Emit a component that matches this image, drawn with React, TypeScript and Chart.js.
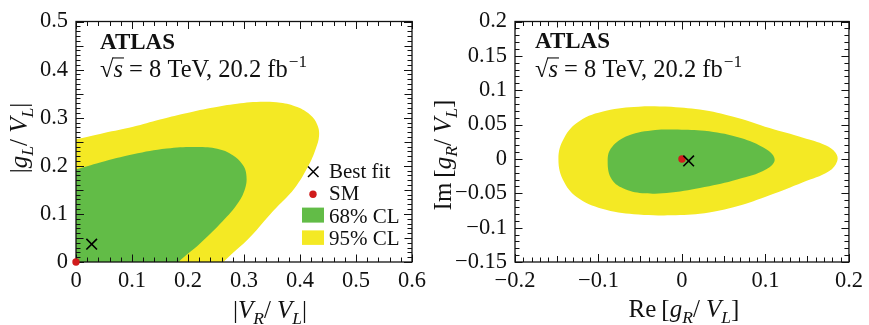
import React, { useEffect, useRef } from 'react';
import { Chart, registerables } from 'chart.js';
Chart.register(...registerables);

const FONT = "'Liberation Serif', 'Times New Roman', 'DejaVu Serif', serif";
const GREEN = '#62bc47';
const YELLOW = '#f4e924';
const SM_RED = '#d01c1c';
const INK = '#111111';

// ---------- Left panel: |gL/VL| vs |VR/VL| ----------
const leftXRange = [0, 0.6];
const leftYRange = [0, 0.5];
const leftXTicks = [0, 0.1, 0.2, 0.3, 0.4, 0.5, 0.6];
const leftYTicks = [0, 0.1, 0.2, 0.3, 0.4, 0.5];
const left95 = [
  { x: -0.03, y: 0.249 }, { x: 0, y: 0.255 }, { x: 0.05, y: 0.268 }, { x: 0.102, y: 0.281 },
  { x: 0.15, y: 0.296 }, { x: 0.192, y: 0.308 }, { x: 0.24, y: 0.32 }, { x: 0.281, y: 0.328 },
  { x: 0.329, y: 0.333 }, { x: 0.365, y: 0.331 }, { x: 0.395, y: 0.322 }, { x: 0.418, y: 0.306 },
  { x: 0.431, y: 0.285 }, { x: 0.434, y: 0.262 }, { x: 0.428, y: 0.235 }, { x: 0.415, y: 0.2 },
  { x: 0.39, y: 0.153 }, { x: 0.352, y: 0.106 }, { x: 0.311, y: 0.052 }, { x: 0.263, y: 0 },
  { x: 0.24, y: -0.03 }, { x: -0.03, y: -0.03 }, { x: -0.03, y: 0.249 },
];
const left68 = [
  { x: -0.03, y: 0.188 }, { x: 0, y: 0.193 }, { x: 0.043, y: 0.207 }, { x: 0.102, y: 0.224 },
  { x: 0.162, y: 0.236 }, { x: 0.221, y: 0.239 }, { x: 0.257, y: 0.234 }, { x: 0.28, y: 0.222 },
  { x: 0.297, y: 0.203 }, { x: 0.304, y: 0.183 }, { x: 0.302, y: 0.153 }, { x: 0.287, y: 0.119 },
  { x: 0.257, y: 0.079 }, { x: 0.221, y: 0.038 }, { x: 0.183, y: 0 }, { x: 0.16, y: -0.03 },
  { x: -0.03, y: -0.03 }, { x: -0.03, y: 0.188 },
];
const leftBestFit = [{ x: 0.028, y: 0.037 }];
const leftSM = [{ x: 0, y: 0 }];

// ---------- Right panel: Im[gR/VL] vs Re[gR/VL] ----------
const rightXRange = [-0.2, 0.2];
const rightYRange = [-0.15, 0.2];
const rightXTicks = [-0.2, -0.1, 0, 0.1, 0.2];
const rightYTicks = [-0.15, -0.1, -0.05, 0, 0.05, 0.1, 0.15, 0.2];
const right95 = [
  { x: -0.013, y: 0.076 }, { x: 0.027, y: 0.071 }, { x: 0.066, y: 0.06 }, { x: 0.105, y: 0.045 },
  { x: 0.145, y: 0.031 }, { x: 0.172, y: 0.02 }, { x: 0.184, y: 0.009 }, { x: 0.186, y: -0.003 },
  { x: 0.176, y: -0.018 }, { x: 0.145, y: -0.034 }, { x: 0.105, y: -0.053 }, { x: 0.066, y: -0.069 },
  { x: 0.027, y: -0.079 }, { x: -0.013, y: -0.082 }, { x: -0.052, y: -0.081 }, { x: -0.091, y: -0.074 },
  { x: -0.123, y: -0.058 }, { x: -0.141, y: -0.034 }, { x: -0.148, y: 0 }, { x: -0.141, y: 0.031 },
  { x: -0.123, y: 0.055 }, { x: -0.091, y: 0.07 }, { x: -0.052, y: 0.076 }, { x: -0.013, y: 0.076 },
];
const right68 = [
  { x: -0.005, y: 0.043 }, { x: 0.027, y: 0.041 }, { x: 0.066, y: 0.032 }, { x: 0.097, y: 0.017 },
  { x: 0.111, y: 0 }, { x: 0.101, y: -0.015 }, { x: 0.066, y: -0.03 }, { x: 0.027, y: -0.041 },
  { x: -0.013, y: -0.049 }, { x: -0.044, y: -0.05 }, { x: -0.068, y: -0.044 }, { x: -0.084, y: -0.03 },
  { x: -0.089, y: -0.003 }, { x: -0.084, y: 0.017 }, { x: -0.064, y: 0.034 }, { x: -0.032, y: 0.042 },
  { x: -0.005, y: 0.043 },
];
const rightBestFit = [{ x: 0.008, y: -0.003 }];
const rightSM = [{ x: 0, y: 0 }];

const legendLabels = ['Best fit', 'SM', '68% CL', '95% CL'];

type Seg = { t: string; it?: boolean; sub?: boolean; bold?: boolean };
const leftXTitle: Seg[] = [{ t: '|' }, { t: 'V', it: true }, { t: 'R', it: true, sub: true }, { t: '/ ' }, { t: 'V', it: true }, { t: 'L', it: true, sub: true }, { t: '|' }];
const leftYTitle: Seg[] = [{ t: '|' }, { t: 'g', it: true }, { t: 'L', it: true, sub: true }, { t: '/ ' }, { t: 'V', it: true }, { t: 'L', it: true, sub: true }, { t: '|' }];
const rightXTitle: Seg[] = [{ t: 'Re\u2009[' }, { t: 'g', it: true }, { t: 'R', it: true, sub: true }, { t: '/ ' }, { t: 'V', it: true }, { t: 'L', it: true, sub: true }, { t: ']' }];
const rightYTitle: Seg[] = [{ t: 'Im\u2009[' }, { t: 'g', it: true }, { t: 'R', it: true, sub: true }, { t: '/ ' }, { t: 'V', it: true }, { t: 'L', it: true, sub: true }, { t: ']' }];

function fmt(v: number) {
  if (Math.abs(v) < 1e-9) return '0';
  const s = String(Number(Math.abs(v).toFixed(3)));
  return (v < 0 ? '\u2212' : '') + s;
}

function segFont(s: Seg, size: number) {
  const sz = s.sub ? size * 0.7 : size;
  return `${s.it ? 'italic ' : ''}${s.bold ? 'bold ' : ''}${sz}px ${FONT}`;
}

function drawRich(ctx: CanvasRenderingContext2D, segs: Seg[], x: number, y: number, size: number, align: 'left' | 'center') {
  ctx.textAlign = 'left';
  ctx.textBaseline = 'alphabetic';
  let w = 0;
  for (const s of segs) { ctx.font = segFont(s, size); w += ctx.measureText(s.t).width; }
  let cx = align === 'center' ? x - w / 2 : x;
  for (const s of segs) {
    ctx.font = segFont(s, size);
    ctx.fillText(s.t, cx, y + (s.sub ? size * 0.22 : 0));
    cx += ctx.measureText(s.t).width;
  }
}

function drawEnergy(ctx: CanvasRenderingContext2D, x: number, y: number, size: number) {
  ctx.textAlign = 'left';
  ctx.textBaseline = 'alphabetic';
  ctx.font = `${size}px ${FONT}`;
  ctx.fillText('\u221a', x, y);
  let cx = x + ctx.measureText('\u221a').width;
  ctx.font = `italic ${size}px ${FONT}`;
  const sw = ctx.measureText('s').width;
  ctx.fillText('s', cx, y);
  ctx.fillRect(cx - 1, y - size * 0.8, sw + 2, 1.1);
  cx += sw;
  ctx.font = `${size}px ${FONT}`;
  const rest = ' = 8 TeV, 20.2 fb';
  ctx.fillText(rest, cx, y);
  cx += ctx.measureText(rest).width;
  ctx.font = `${size * 0.7}px ${FONT}`;
  ctx.fillText('\u22121', cx + 1, y - size * 0.4);
}

const framePlugin = {
  id: 'frame',
  afterDatasetDraw(chart: any, args: any, opts: any) {
    if (args.index !== opts.afterIndex) return;
    const { ctx, chartArea: a } = chart;
    const xs = chart.scales.x, ys = chart.scales.y;
    ctx.save();
    ctx.strokeStyle = INK;
    ctx.lineWidth = 1;
    ctx.beginPath();
    for (const [step, len] of opts.xTicks) {
      const n0 = Math.ceil(xs.min / step - 1e-6), n1 = Math.floor(xs.max / step + 1e-6);
      for (let n = n0; n <= n1; n++) {
        const px = Math.round(xs.getPixelForValue(n * step)) + 0.5;
        ctx.moveTo(px, a.bottom); ctx.lineTo(px, a.bottom - len);
        ctx.moveTo(px, a.top); ctx.lineTo(px, a.top + len);
      }
    }
    for (const [step, len] of opts.yTicks) {
      const n0 = Math.ceil(ys.min / step - 1e-6), n1 = Math.floor(ys.max / step + 1e-6);
      for (let n = n0; n <= n1; n++) {
        const py = Math.round(ys.getPixelForValue(n * step)) + 0.5;
        ctx.moveTo(a.left, py); ctx.lineTo(a.left + len, py);
        ctx.moveTo(a.right, py); ctx.lineTo(a.right - len, py);
      }
    }
    ctx.stroke();
    ctx.lineWidth = 1.3;
    ctx.strokeRect(a.left, a.top, a.right - a.left, a.bottom - a.top);
    ctx.restore();
  },
};

const textPlugin = {
  id: 'annot',
  afterDraw(chart: any, _args: any, o: any) {
    const ctx = chart.ctx as CanvasRenderingContext2D;
    ctx.save();
    ctx.fillStyle = INK;
    drawRich(ctx, o.xTitle, o.xTitlePos[0], o.xTitlePos[1], 25, 'center');
    ctx.save();
    ctx.translate(o.yTitlePos[0], o.yTitlePos[1]);
    ctx.rotate(-Math.PI / 2);
    drawRich(ctx, o.yTitle, 0, 0, 25, 'center');
    ctx.restore();
    ctx.font = `bold 23px ${FONT}`;
    ctx.textAlign = 'left';
    ctx.textBaseline = 'alphabetic';
    ctx.fillText('ATLAS', o.atlas[0], o.atlas[1]);
    drawEnergy(ctx, o.energy[0], o.energy[1], 24.5);
    if (o.legend) {
      const ds = chart.data.datasets;
      const [lx, ly] = o.legend;
      const sp = 22.3;
      ctx.font = `21px ${FONT}`;
      ctx.strokeStyle = ds[0].borderColor;
      ctx.lineWidth = 1.5;
      ctx.beginPath();
      ctx.moveTo(lx + 6, ly - 11.5); ctx.lineTo(lx + 16.5, ly - 1);
      ctx.moveTo(lx + 16.5, ly - 11.5); ctx.lineTo(lx + 6, ly - 1);
      ctx.stroke();
      ctx.fillStyle = ds[1].backgroundColor;
      ctx.beginPath(); ctx.arc(lx + 11, ly + sp - 6, 3.7, 0, Math.PI * 2); ctx.fill();
      ctx.fillStyle = ds[2].backgroundColor;
      ctx.fillRect(lx, ly + 2 * sp - 15, 22, 15);
      ctx.fillStyle = ds[3].backgroundColor;
      ctx.fillRect(lx, ly + 3 * sp - 14.5, 22, 14.5);
      ctx.fillStyle = INK;
      legendLabels.forEach((t, i) => ctx.fillText(t, lx + 27, ly + i * sp));
    }
    ctx.restore();
  },
};

function makeChart(canvas: HTMLCanvasElement, p: any) {
  return new Chart(canvas, {
    type: 'line',
    data: {
      datasets: [
        { label: legendLabels[0], data: p.best, order: 0, showLine: false, pointStyle: 'crossRot', pointRadius: 7.5, borderColor: '#000000', borderWidth: 1.6, backgroundColor: '#000000', clip: false } as any,
        { label: legendLabels[1], data: p.sm, order: 1, showLine: false, pointStyle: 'circle', pointRadius: 3.7, borderWidth: 0, borderColor: SM_RED, backgroundColor: SM_RED, clip: false } as any,
        { label: legendLabels[2], data: p.c68, order: 2, fill: 'shape', backgroundColor: GREEN, borderColor: 'rgba(0,0,0,0)', borderWidth: 0, pointRadius: 0, tension: 0.4 } as any,
        { label: legendLabels[3], data: p.c95, order: 3, fill: 'shape', backgroundColor: YELLOW, borderColor: 'rgba(0,0,0,0)', borderWidth: 0, pointRadius: 0, tension: 0.4 } as any,
      ],
    },
    options: {
      animation: false,
      responsive: false,
      events: [],
      layout: { padding: { left: 0, right: p.padR, top: p.padT, bottom: 0 } },
      elements: { line: { capBezierPoints: false } },
      plugins: {
        legend: { display: false },
        tooltip: { enabled: false },
        frame: { afterIndex: 2, xTicks: p.xMinor, yTicks: p.yMinor },
        annot: p.annot,
      } as any,
      scales: {
        x: {
          type: 'linear', min: p.xr[0], max: p.xr[1],
          grid: { display: false, drawTicks: false }, border: { display: false },
          afterBuildTicks: (s: any) => { s.ticks = p.xTicks.map((v: number) => ({ value: v })); },
          afterFit: (s: any) => { s.height = p.xAxisH; },
          ticks: { autoSkip: false, maxRotation: 0, padding: 6, color: INK, font: { family: FONT, size: 22.5 }, callback: (v: any) => fmt(Number(v)) },
        },
        y: {
          type: 'linear', min: p.yr[0], max: p.yr[1],
          grid: { display: false, drawTicks: false }, border: { display: false },
          afterBuildTicks: (s: any) => { s.ticks = p.yTicks.map((v: number) => ({ value: v })); },
          afterFit: (s: any) => { s.width = p.yAxisW; },
          ticks: { autoSkip: false, padding: 8, color: INK, font: { family: FONT, size: 22.5 }, callback: (v: any) => fmt(Number(v)) },
        },
      },
    } as any,
    plugins: [framePlugin, textPlugin],
  });
}

export default function App() {
  const leftRef = useRef<HTMLCanvasElement>(null);
  const rightRef = useRef<HTMLCanvasElement>(null);
  useEffect(() => {
    const c1 = makeChart(leftRef.current!, {
      best: leftBestFit, sm: leftSM, c68: left68, c95: left95,
      xr: leftXRange, yr: leftYRange, xTicks: leftXTicks, yTicks: leftYTicks,
      padR: 28, padT: 15, yAxisW: 76, xAxisH: 63,
      xMinor: [[0.1, 7.5], [0.02, 4.5]],
      yMinor: [[0.1, 8], [0.05, 7.5], [0.01, 4.5]],
      annot: { xTitle: leftXTitle, xTitlePos: [270, 318], yTitle: leftYTitle, yTitlePos: [27, 138], atlas: [100, 49], energy: [100, 77], legend: [302, 178] },
    });
    const c2 = makeChart(rightRef.current!, {
      best: rightBestFit, sm: rightSM, c68: right68, c95: right95,
      xr: rightXRange, yr: rightYRange, xTicks: rightXTicks, yTicks: rightYTicks,
      padR: 15, padT: 13, yAxisW: 95, xAxisH: 63,
      xMinor: [[0.1, 8], [0.05, 6], [0.01, 4.5]],
      yMinor: [[0.05, 7.5], [0.01, 4.5]],
      annot: { xTitle: rightXTitle, xTitlePos: [264, 317], yTitle: rightYTitle, yTitlePos: [31, 155], atlas: [115, 48], energy: [115, 77], legend: null },
    });
    return () => { c1.destroy(); c2.destroy(); };
  }, []);
  return (
    <div style={{ position: 'fixed', left: 0, top: 0, width: 869, height: 325, background: '#ffffff' }}>
      <canvas ref={leftRef} width={440} height={325} style={{ position: 'absolute', left: 0, top: 0, width: 440, height: 325 }} />
      <canvas ref={rightRef} width={449} height={325} style={{ position: 'absolute', left: 420, top: 0, width: 449, height: 325 }} />
    </div>
  );
}
